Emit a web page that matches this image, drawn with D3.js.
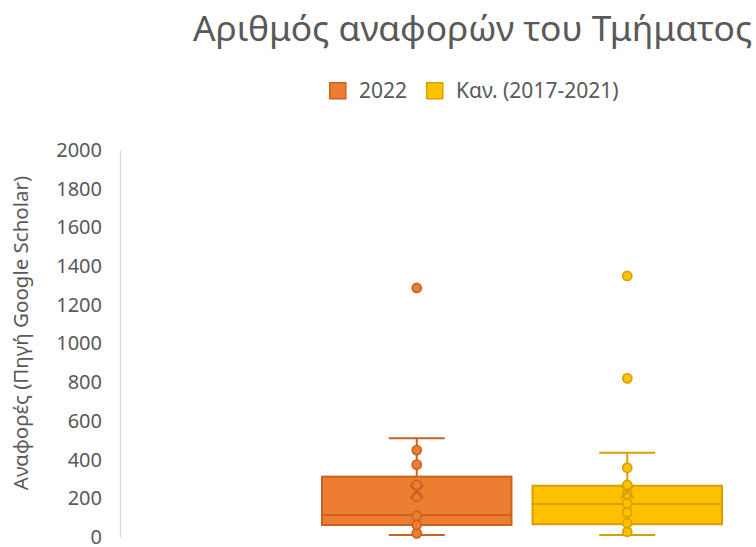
<!DOCTYPE html>
<html>
<head>
<meta charset="utf-8">
<script src="https://cdn.jsdelivr.net/npm/d3@7"></script>
<style>
  html, body { margin: 0; padding: 0; background: #fff; }
  svg { display: block; font-family: "Noto Sans", sans-serif; }
</style>
</head>
<body>
<svg id="chart" width="756" height="547"></svg>
<script>
// Box plot of citation counts: 2022 against the 2017-2021 norm
const series = ["2022", "Καν. (2017-2021)"];
const fills = ["#ED7D31", "#FFC000"];
const strokes = ["#c9621f", "#d4a100"];

// five-number summaries and means, one entry per series
const whiskerLow = [10, 10];
const q1 = [62, 66];
const median = [114, 171];
const q3 = [312, 265];
const whiskerHigh = [510, 436];
const means = [234, 234];

// individual points drawn inside the whiskers, and the outliers beyond them
const innerPoints = [
  [19, 62, 110, 208, 269, 374, 449],
  [27, 71, 128, 174, 222, 269, 358]
];
const outliers = [
  [1287],
  [820, 1349]
];

const yTicks = [0, 200, 400, 600, 800, 1000, 1200, 1400, 1600, 1800, 2000];

const svg = d3.select("#chart");
const textColor = "#595959";

const y = d3.scaleLinear().domain([0, 2000]).range([537, 150]);
const x = d3.scaleBand().domain(series).range([322, 722]).paddingInner(0.1);

// title
svg.append("text")
  .attr("x", 193).attr("y", 41)
  .attr("font-size", 35.4)
  .attr("fill", textColor)
  .text("Αριθμός αναφορών του Τμήματος");

// legend
const legend = svg.append("g");
const legendX = [329, 426];
series.forEach((s, i) => {
  legend.append("rect")
    .attr("x", legendX[i] + 0.75).attr("y", 82.75)
    .attr("width", 16).attr("height", 16)
    .attr("fill", fills[i]).attr("stroke", strokes[i]).attr("stroke-width", 1.5);
  legend.append("text")
    .attr("x", legendX[i] + 30).attr("y", 98)
    .attr("font-size", 21).attr("fill", textColor)
    .text(s);
});

// y axis
const yAxis = d3.axisLeft(y).tickValues(yTicks).tickFormat(d3.format("d"))
  .tickSize(0).tickPadding(18);
const ga = svg.append("g").attr("transform", "translate(120,0)").call(yAxis);
ga.select(".domain").attr("stroke", "#d9d9d9").attr("stroke-width", 1.3);
ga.selectAll("text")
  .attr("font-size", 20)
  .attr("fill", textColor)
  .attr("font-family", "Noto Sans, sans-serif")
  .attr("dy", "0.32em");

// y axis title
svg.append("text")
  .attr("transform", "translate(28,333) rotate(-90)")
  .attr("text-anchor", "middle")
  .attr("font-size", 20.5)
  .attr("fill", textColor)
  .text("Αναφορές (Πηγή Google Scholar)");

// boxes
const capHalf = 28;
const r = 4.6;
series.forEach((s, i) => {
  const g = svg.append("g");
  const x0 = x(s), bw = x.bandwidth(), cx = x0 + bw / 2;
  const st = strokes[i], fl = fills[i];

  // whiskers
  g.append("line").attr("x1", cx).attr("x2", cx)
    .attr("y1", y(q3[i])).attr("y2", y(whiskerHigh[i]))
    .attr("stroke", st).attr("stroke-width", 2);
  g.append("line").attr("x1", cx).attr("x2", cx)
    .attr("y1", y(q1[i])).attr("y2", y(whiskerLow[i]))
    .attr("stroke", st).attr("stroke-width", 2);
  [whiskerHigh[i], whiskerLow[i]].forEach(v => {
    g.append("line").attr("x1", cx - capHalf).attr("x2", cx + capHalf)
      .attr("y1", y(v)).attr("y2", y(v))
      .attr("stroke", st).attr("stroke-width", 2);
  });

  // box
  g.append("rect")
    .attr("x", x0).attr("y", y(q3[i]))
    .attr("width", bw).attr("height", y(q1[i]) - y(q3[i]))
    .attr("fill", fl).attr("stroke", st).attr("stroke-width", 2);
  g.append("line").attr("x1", x0).attr("x2", x0 + bw)
    .attr("y1", y(median[i])).attr("y2", y(median[i]))
    .attr("stroke", st).attr("stroke-width", 2);

  // points
  innerPoints[i].concat(outliers[i]).forEach(v => {
    g.append("circle").attr("cx", cx).attr("cy", y(v)).attr("r", r)
      .attr("fill", fl).attr("stroke", st).attr("stroke-width", 1.6);
  });

  // mean marker
  const m = y(means[i]), h = 6.5;
  g.append("path")
    .attr("d", `M${cx - h},${m - h}L${cx + h},${m + h}M${cx - h},${m + h}L${cx + h},${m - h}`)
    .attr("stroke", st).attr("stroke-width", 2).attr("fill", "none");
});
</script>
</body>
</html>
